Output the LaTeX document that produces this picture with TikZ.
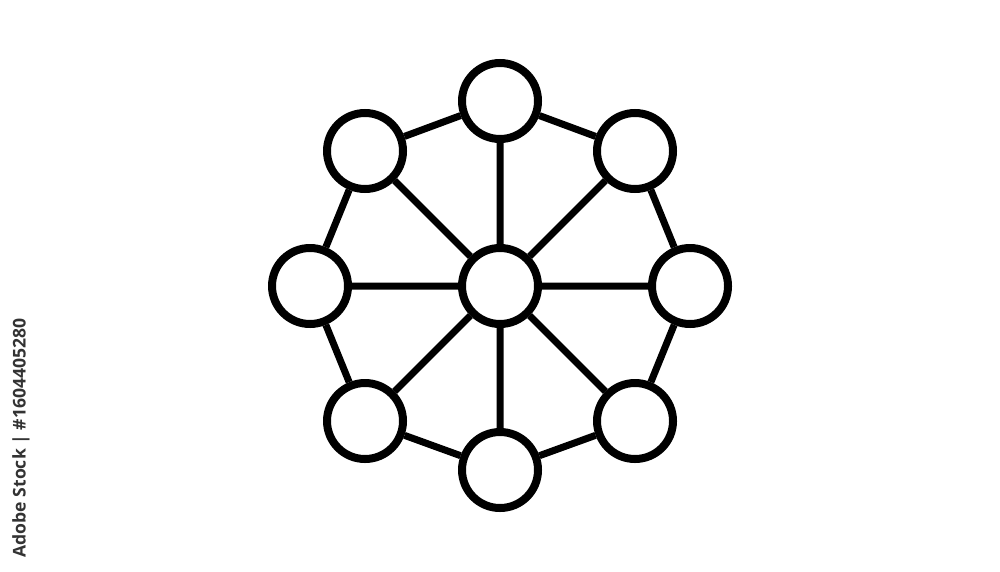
\documentclass[tikz,border=0pt]{standalone}
\usepackage{fontspec}
\setmainfont{Open Sans}
\usetikzlibrary{positioning}
\tikzset{
every node/.style={inner sep=0pt},
dot/.style={circle, draw, line width=0.08cm, fill=white, minimum size=0.76cm},
link/.style={line width=0.07cm},
}

\begin{document}
\begin{tikzpicture}
\useasboundingbox (0,0) rectangle (10,5.71);
    \node[dot] (hub) at (5.00,2.85) {};
    \node[dot] (p0) at (5.00,4.70) {};
    \node[dot] (p1) at (6.35,4.20) {};
    \node[dot] (p2) at (6.90,2.85) {};
    \node[dot] (p3) at (6.35,1.50) {};
    \node[dot] (p4) at (5.00,1.01) {};
    \node[dot] (p5) at (3.65,1.50) {};
    \node[dot] (p6) at (3.10,2.85) {};
    \node[dot] (p7) at (3.65,4.20) {};

    \node[rotate=90, font=\fontsize{5}{6}\selectfont\bfseries, text=black!80] (mark) at (0.21,1.33) {Adobe Stock | \#1604405280};

    \draw[link]
    (hub) -- (p0) (hub) -- (p1) (hub) -- (p2) (hub) -- (p3)
    (hub) -- (p4) (hub) -- (p5) (hub) -- (p6) (hub) -- (p7)

    (p0) -- (p1) (p1) -- (p2) (p2) -- (p3) (p3) -- (p4)
    (p4) -- (p5) (p5) -- (p6) (p6) -- (p7) (p7) -- (p0)
    ;
\end{tikzpicture}
\end{document}
